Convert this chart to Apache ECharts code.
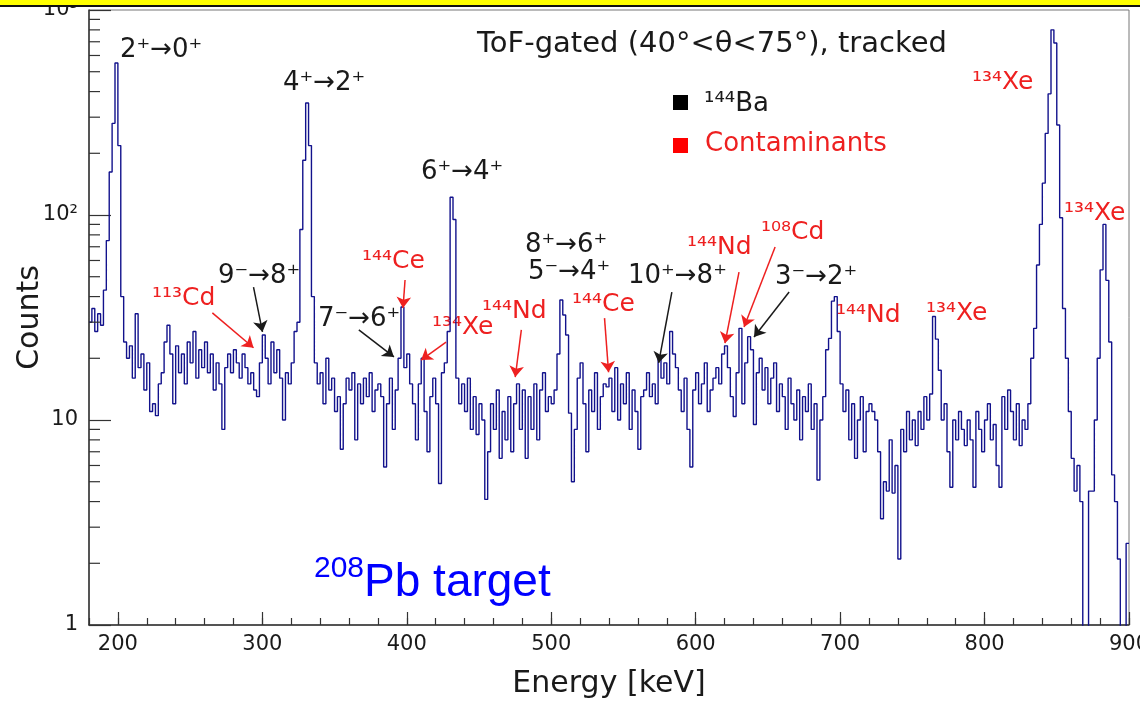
<!DOCTYPE html>
<html>
<head>
<meta charset="utf-8">
<title>144Ba gamma spectrum</title>
<script src="https://cdn.jsdelivr.net/npm/echarts@6/dist/echarts.min.js"></script>
<style>
  html, body { margin: 0; padding: 0; background: #fff; }
  #chart { width: 1140px; height: 705px; }
</style>
</head>
<body>
<div id="chart"></div>
<script>
// histogram: 2 keV bins starting at 180 keV
const binStart = 180;
const binWidth = 2;
const counts = [
  30, 35, 27, 33, 29, 43, 75, 162, 280, 551,          // 180-198
  218, 40, 24, 20, 23, 16, 33, 18, 21, 14,            // 200
  19, 11, 12, 10.5, 15, 17, 24, 29, 21, 12,           // 220
  23, 17, 21, 15, 24, 19, 27, 16, 22, 18,             // 240
  24, 17, 21, 14, 19, 15, 9, 18, 21, 17,              // 260
  22, 19, 16, 21, 18, 15, 17, 14, 13, 19,             // 280
  26, 20, 15, 24, 17, 22, 16, 10, 17, 15,             // 300
  19, 27, 30, 85, 185, 352, 218, 40, 19, 15,          // 320
  17, 12, 20, 14, 16, 11, 13, 7.2, 12, 16,            // 340
  14, 17, 8, 15, 12, 16, 13, 17, 11, 14,              // 360
  15, 13, 5.9, 12, 16, 9, 14, 20, 35.6, 18,           // 380
  21, 15, 12, 8, 15, 20, 11, 7, 13, 16,               // 400
  12, 4.9, 17, 19, 27, 122, 95, 16, 12, 15,           // 420
  11, 16, 9, 13, 8.5, 12, 10, 4.1, 7, 12,             // 440
  9, 14, 6.5, 11, 8, 13, 7, 12, 15, 9,                // 460
  14, 6.5, 13, 9, 15, 8, 14, 17, 11, 13,              // 480
  12, 14, 21, 38.5, 32.5, 26, 10.8, 5, 9, 16,         // 500
  19, 12, 7, 14, 11, 17, 9, 13, 15, 14.5,             // 520
  16, 11, 18, 10, 15, 12, 17, 9, 14, 11,              // 540
  7.2, 13, 14, 17, 13, 15, 12, 20, 16, 19,            // 560
  15, 27, 21, 18, 14, 11, 16, 9, 5.9, 14,             // 580
  17, 12, 15, 19, 11, 14, 16, 18, 15, 21,             // 600
  23, 18, 13, 10.4, 17, 28, 12, 19, 25.5, 22,         // 620
  9.5, 17, 20, 14, 18, 12, 16, 19, 11, 15,            // 640
  13, 9, 16, 12, 10, 14, 8, 13, 11, 15,               // 660
  9, 12, 5.1, 10, 13, 22, 25, 38, 40, 27,             // 680
  15, 11, 14, 8, 12, 6.5, 10, 13, 7, 11,              // 700
  12, 11, 10, 7, 3.3, 5, 4.5, 8, 4.4, 6,              // 720
  2.1, 9, 7, 11, 8, 10, 7.5, 11, 9, 13,               // 740
  10, 13.4, 32, 24.8, 17.5, 10, 12, 7, 4.7, 10,       // 760
  8, 11, 9, 7.5, 10, 8, 4.7, 11, 9, 7,                // 780
  10, 12, 8, 9.5, 6, 4.7, 13, 9, 14, 11,              // 800
  8, 12, 7.5, 10, 9, 12, 20, 28, 57, 90,              // 820
  143, 250, 390, 800, 690, 275, 97, 35, 20, 11,       // 840
  6.5, 4.5, 6, 4, 0.5, 0.5, 4.5, 4.5, 10, 20,         // 860
  54, 90, 48, 24, 5.4, 4, 2.1, 0.5, 0.5, 2.5          // 880
];

// minor ticks of the log axis
const yMinorTicks = [2, 3, 4, 5, 6, 7, 8, 9, 20, 30, 40, 50, 60, 70, 80, 90,
  200, 300, 400, 500, 600, 700, 800, 900];

// arrows [keV, counts] -> [keV, counts]
const arrowFrom = [[265.4, 33.3], [293.9, 44.5], [398.8, 48.2], [366.8, 27.5], [427.2, 24.0], [479.3, 27.5],
  [536.9, 31.4], [583.5, 42.1], [630.0, 52.7], [655.0, 69.8], [664.7, 42.1]];
const arrowTo = [[293.9, 22.5], [300.1, 26.9], [397.4, 35.2], [391.1, 20.3], [409.9, 19.6], [475.1, 16.2],
  [539.7, 17.1], [574.4, 19.0], [620.3, 23.7], [633.5, 28.4], [640.4, 25.4]];
const arrowKind = ['c', 'b', 'c', 'b', 'c', 'c', 'c', 'b', 'c', 'c', 'b'];

const RED = '#ee2020';
const BLK = '#1a1a1a';
const FONT = '"DejaVu Sans", Verdana, sans-serif';

// peak labels: text, colour, left x, centre y
const labels = [
  ['2⁺→0⁺', BLK, 120, 50],
  ['4⁺→2⁺', BLK, 283, 83],
  ['6⁺→4⁺', BLK, 421, 172],
  ['¹¹³Cd', RED, 152, 298],
  ['9⁻→8⁺', BLK, 218, 276],
  ['¹⁴⁴Ce', RED, 362, 261],
  ['7⁻→6⁺', BLK, 318, 319],
  ['¹³⁴Xe', RED, 432, 327],
  ['¹⁴⁴Nd', RED, 482, 311],
  ['8⁺→6⁺', BLK, 525, 245],
  ['5⁻→4⁺', BLK, 528, 272],
  ['¹⁴⁴Ce', RED, 572, 304],
  ['10⁺→8⁺', BLK, 628, 276],
  ['¹⁴⁴Nd', RED, 687, 247],
  ['¹⁰⁸Cd', RED, 761, 232],
  ['3⁻→2⁺', BLK, 775, 277],
  ['¹⁴⁴Nd', RED, 836, 315],
  ['¹³⁴Xe', RED, 926, 313],
  ['¹³⁴Xe', RED, 972, 82],
  ['¹³⁴Xe', RED, 1064, 213]
];

const chart = echarts.init(document.getElementById('chart'));

const histData = counts.map((c, i) => [binStart + i * binWidth, c]);
histData.push([binStart + counts.length * binWidth, counts[counts.length - 1]]);

const arrowLines = arrowFrom.map((f, i) => {
  const col = arrowKind[i] === 'c' ? RED : BLK;
  return [
    { coord: f, symbol: 'none', lineStyle: { color: col } },
    { coord: arrowTo[i], symbol: 'arrow', lineStyle: { color: col }, itemStyle: { color: col } }
  ];
});

const graphics = [
  { type: 'rect', z: 100, shape: { x: 0, y: 0, width: 1140, height: 5 }, style: { fill: '#ffff00' } },
  { type: 'rect', z: 100, shape: { x: 0, y: 5, width: 1140, height: 2 }, style: { fill: '#111' } },
  { type: 'text', x: 477, y: 44, style: { text: 'ToF-gated (40°<θ<75°), tracked', font: '29px ' + FONT, fill: BLK, verticalAlign: 'middle' } },
  { type: 'rect', shape: { x: 673, y: 95, width: 15, height: 15 }, style: { fill: '#000' } },
  { type: 'rect', shape: { x: 673, y: 138, width: 15, height: 15 }, style: { fill: '#ff0000' } },
  { type: 'text', x: 704, y: 104, style: { text: '¹⁴⁴Ba', font: '26px ' + FONT, fill: BLK, verticalAlign: 'middle' } },
  { type: 'text', x: 705, y: 144, style: { text: 'Contaminants', font: '26px ' + FONT, fill: RED, verticalAlign: 'middle' } },
  {
    type: 'text', x: 314, y: 580,
    style: {
      text: '{s|208}{b|Pb target}', verticalAlign: 'middle', fill: '#0000ff',
      rich: {
        s: { font: '30px "Liberation Sans", Arial, sans-serif', fill: '#0000ff', verticalAlign: 'top', lineHeight: 52 },
        b: { font: '46px "Liberation Sans", Arial, sans-serif', fill: '#0000ff', verticalAlign: 'bottom', lineHeight: 52 }
      }
    }
  }
];
labels.forEach(l => {
  const sz = l[1] === RED ? 25 : 26;
  graphics.push({ type: 'text', x: l[2], y: l[3], style: { text: l[0], font: sz + 'px ' + FONT, fill: l[1], verticalAlign: 'middle' } });
});

const option = {
  animation: false,
  backgroundColor: '#fff',
  grid: {
    left: 89, right: 11, top: 10, bottom: 80,
    outerBoundsMode: 'none', containLabel: false,
    show: true, borderColor: '#777', borderWidth: 1
  },
  xAxis: [
    {
      type: 'value', min: 180, max: 900,
      name: 'Energy [keV]', nameLocation: 'middle', nameGap: 44,
      nameTextStyle: { fontFamily: 'DejaVu Sans', fontSize: 30, color: BLK },
      axisLine: { show: true, lineStyle: { color: '#333', width: 1.5 } },
      axisTick: { show: true, inside: true, length: 13, lineStyle: { color: '#333', width: 1.2 } },
      axisLabel: { showMinLabel: false, margin: 9, fontFamily: 'DejaVu Sans', fontSize: 21, color: BLK },
      splitLine: { show: false }
    },
    {
      type: 'value', min: 180, max: 900, interval: 20, position: 'bottom',
      axisLine: { show: false },
      axisTick: { show: true, inside: true, length: 7, lineStyle: { color: '#333', width: 1.2 } },
      axisLabel: { show: false },
      splitLine: { show: false }
    }
  ],
  yAxis: {
    type: 'log', logBase: 10, min: 1, max: 1000,
    name: 'Counts', nameLocation: 'middle', nameGap: 44, nameMoveOverlap: false,
    nameTextStyle: { fontFamily: 'DejaVu Sans', fontSize: 30, color: BLK },
    axisLine: { show: true, lineStyle: { color: '#333', width: 1.5 } },
    axisTick: { show: true, inside: true, length: 22, lineStyle: { color: '#333', width: 1.2 } },
    axisLabel: {
      margin: 11, fontFamily: 'DejaVu Sans', fontSize: 21, color: BLK,
      formatter: v => ({ 1: '1', 10: '10', 100: '10²', 1000: '10³' }[Math.round(v)] || '')
    },
    splitLine: { show: false }
  },
  graphic: graphics,
  series: [
    {
      name: 'spectrum', type: 'line', step: 'end', data: histData,
      xAxisIndex: 0, symbol: 'none', clip: true, z: 2,
      lineStyle: { color: '#12128c', width: 1.4 },
      markLine: {
        silent: true, symbolSize: 11, animation: false,
        label: { show: false },
        lineStyle: { type: 'solid', width: 1.5 },
        data: arrowLines
      }
    },
    {
      name: 'yMinor', type: 'custom', coordinateSystem: 'cartesian2d', xAxisIndex: 0,
      silent: true, z: 3,
      data: yMinorTicks.map(v => [180, v]),
      renderItem: (params, api) => {
        const p = api.coord([api.value(0), api.value(1)]);
        return {
          type: 'line',
          shape: { x1: p[0], y1: p[1], x2: p[0] + 11, y2: p[1] },
          style: { stroke: '#333', lineWidth: 1.2 }
        };
      }
    }
  ]
};

chart.setOption(option);
</script>
</body>
</html>
